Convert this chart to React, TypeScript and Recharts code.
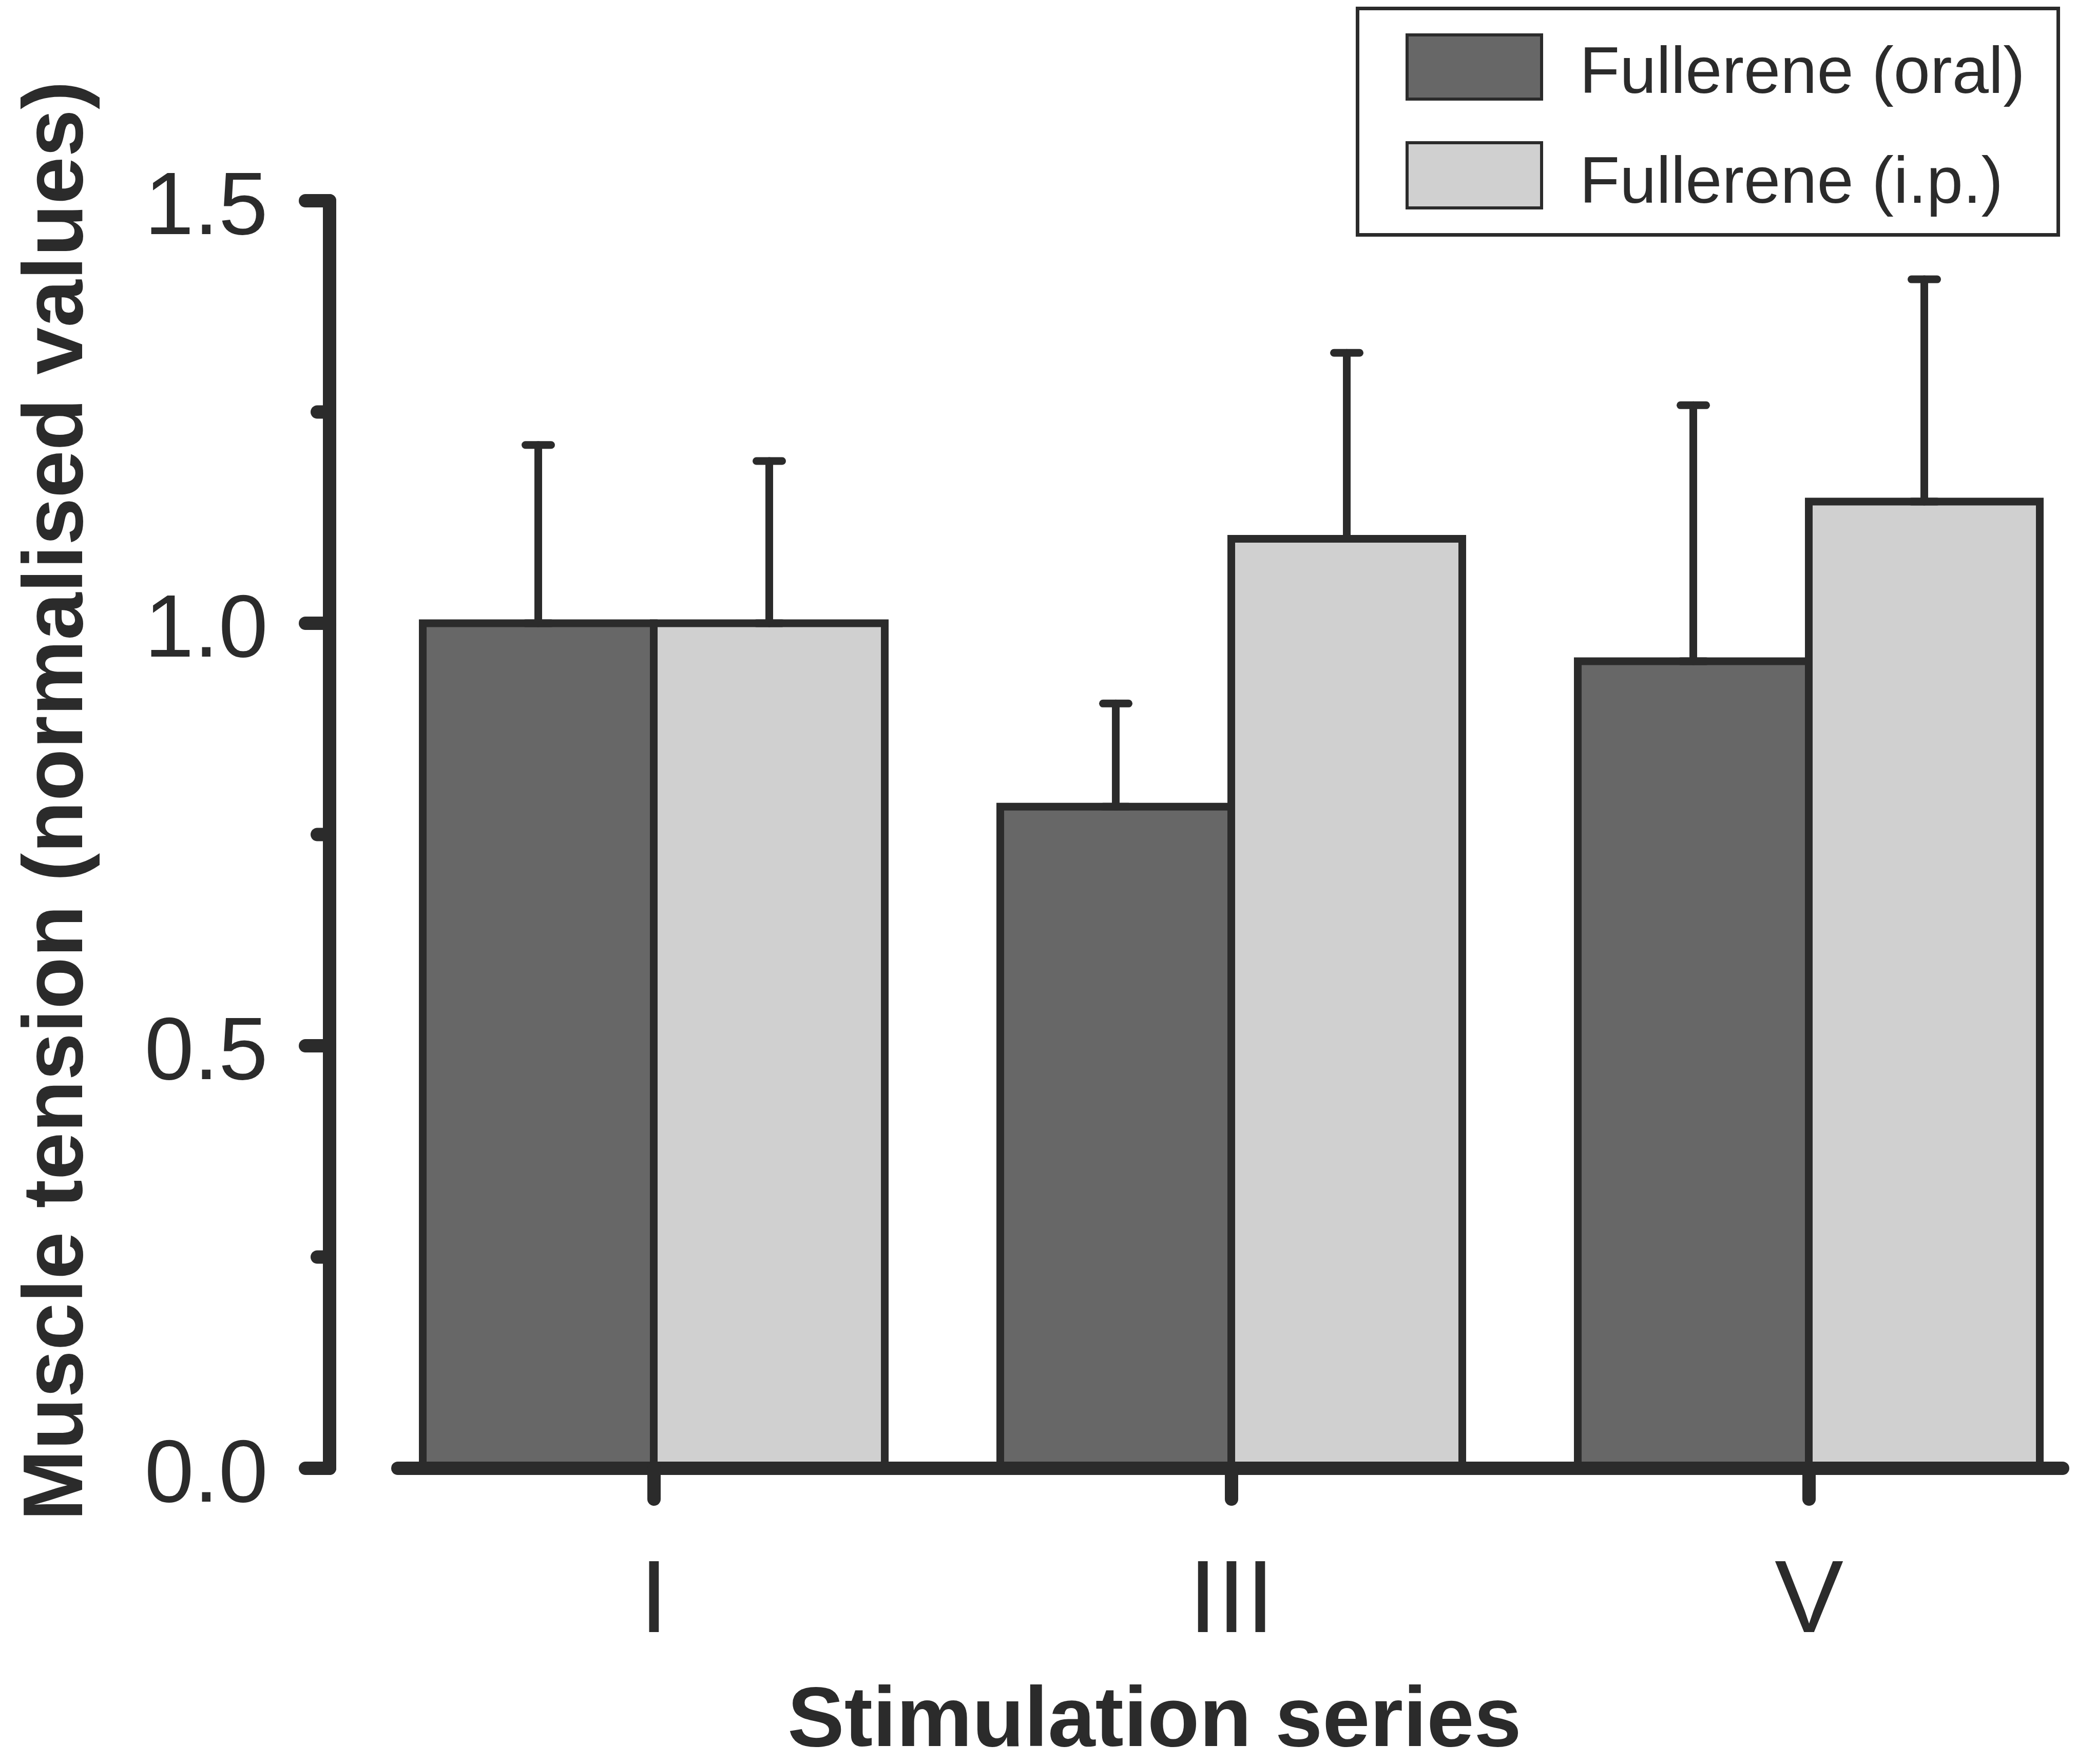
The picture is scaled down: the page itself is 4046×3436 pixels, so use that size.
import React from 'react';
import { BarChart, Bar, XAxis, YAxis, ErrorBar, ReferenceLine, Legend, Label } from 'recharts';

const categories = ['I', 'III', 'V'];
const positions = [0, 1, 2];
const oralMeans = [1.0, 0.783, 0.955];
const oralErrors = [0.211, 0.122, 0.303];
const ipMeans = [1.0, 1.1, 1.144];
const ipErrors = [0.192, 0.22, 0.263];
const yTicks = [0, 0.25, 0.5, 0.75, 1.0, 1.25, 1.5];
const seriesNames = ['Fullerene (oral)', 'Fullerene (i.p.)'];
const seriesColors = ['#676767', '#d0d0d0'];

const INK = '#2b2b2b';
const FONT = '"Liberation Sans", Arial, Helvetica, sans-serif';

const data = positions.map((p, i) => ({
  pos: p,
  label: categories[i],
  oral: oralMeans[i],
  oralErr: [0, oralErrors[i]],
  ip: ipMeans[i],
  ipErr: [0, ipErrors[i]],
}));

const YTick = (props: any) => {
  const { x, y, payload } = props;
  const v = Number(payload.value);
  const major = Math.abs(v * 2 - Math.round(v * 2)) < 1e-6;
  return (
    <g>
      <line
        x1={x - (major ? 47 : 24)}
        x2={x}
        y1={y}
        y2={y}
        stroke={INK}
        strokeWidth={26}
        strokeLinecap="round"
      />
      {major && (
        <text
          x={x - 120}
          y={y}
          dy={65}
          textAnchor="end"
          fontSize={173}
          fill={INK}
          fontFamily={FONT}
        >
          {v.toFixed(1)}
        </text>
      )}
    </g>
  );
};

const LegendBox = () => (
  <svg width={1372} height={448} style={{ display: 'block' }}>
    <rect x={3.5} y={3.5} width={1365} height={441} fill="#ffffff" stroke={INK} strokeWidth={7} />
    <rect x={100} y={55} width={262} height={125} fill={seriesColors[0]} stroke={INK} strokeWidth={6} />
    <rect x={100} y={265} width={262} height={127} fill={seriesColors[1]} stroke={INK} strokeWidth={6} />
    <text x={436} y={168} fontSize={128} fill={INK} fontFamily={FONT}>
      {seriesNames[0]}
    </text>
    <text x={436} y={382} fontSize={128} fill={INK} fontFamily={FONT}>
      {seriesNames[1]}
    </text>
  </svg>
);

export default function App() {
  return (
    <div style={{ width: 4030, height: 3428, marginBottom: -8, background: '#ffffff' }}>
      <BarChart
        width={4030}
        height={3428}
        data={data}
        margin={{ top: 383, right: 20, bottom: 0, left: 0 }}
        barGap={0}
      >
        <XAxis
          type="number"
          dataKey="pos"
          domain={[-0.5618, 2.4391]}
          ticks={positions}
          allowDataOverflow
          interval={0}
          tickFormatter={(v: number) => categories[v] ?? ''}
          tickSize={60}
          tickMargin={116}
          axisLine={false}
          tickLine={{ stroke: INK, strokeWidth: 26, strokeLinecap: 'round' }}
          tick={{ fontSize: 201, fill: INK, fontFamily: FONT }}
          height={576}
        >
          <Label
            content={() => (
              <text
                x={2241}
                y={3393}
                textAnchor="middle"
                fontSize={166}
                fontWeight="bold"
                fill={INK}
                fontFamily={FONT}
              >
                Stimulation series
              </text>
            )}
          />
        </XAxis>
        <YAxis
          type="number"
          domain={[0, 1.5]}
          ticks={yTicks}
          interval={0}
          width={634}
          tickSize={0}
          tickMargin={0}
          tickLine={false}
          axisLine={{ stroke: INK, strokeWidth: 26, strokeLinecap: 'round' }}
          tick={<YTick />}
        >
          <Label
            content={() => (
              <text
                x={152}
                y={1552}
                transform="rotate(-90 152 1552)"
                textAnchor="middle"
                fontSize={166}
                fontWeight="bold"
                fill={INK}
                fontFamily={FONT}
              >
                Muscle tension (normalised values)
              </text>
            )}
          />
        </YAxis>
        <Legend
          layout="horizontal"
          verticalAlign="middle"
          align="center"
          wrapperStyle={{ position: 'absolute', left: 2633, top: 5, width: 1372, height: 448 }}
          content={() => <LegendBox />}
        />
        <Bar
          dataKey="oral"
          name={seriesNames[0]}
          fill={seriesColors[0]}
          stroke={INK}
          strokeWidth={15}
          barSize={450}
          isAnimationActive={false}
        >
          <ErrorBar
            dataKey="oralErr"
            direction="y"
            width={25}
            stroke={INK}
            strokeWidth={15}
            strokeLinecap="round"
            isAnimationActive={false}
          />
        </Bar>
        <Bar
          dataKey="ip"
          name={seriesNames[1]}
          fill={seriesColors[1]}
          stroke={INK}
          strokeWidth={15}
          barSize={450}
          isAnimationActive={false}
        >
          <ErrorBar
            dataKey="ipErr"
            direction="y"
            width={25}
            stroke={INK}
            strokeWidth={15}
            strokeLinecap="round"
            isAnimationActive={false}
          />
        </Bar>
        <ReferenceLine
          segment={[
            { x: -0.4436, y: 0 },
            { x: 2.4391, y: 0 },
          ]}
          stroke={INK}
          strokeWidth={26}
          strokeLinecap="round"
          ifOverflow="visible"
        />
      </BarChart>
    </div>
  );
}
